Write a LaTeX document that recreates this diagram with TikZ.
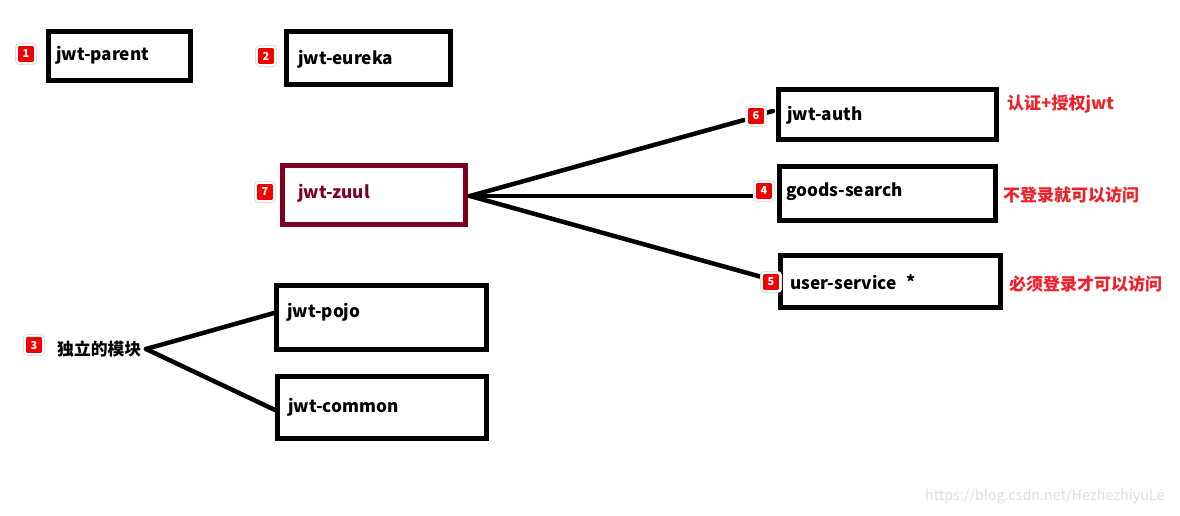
\documentclass[tikz,border=0pt]{standalone}
\usepackage{fontspec}
\setmainfont{Noto Sans CJK SC}
\begin{document}
\begin{tikzpicture}[x=1pt,y=-1pt,
  box/.style={draw=black,line width=5pt,inner sep=0pt},
  lab/.style={anchor=west,font=\fontsize{17.2}{18}\selectfont\bfseries,inner sep=0pt},
  note/.style={anchor=west,font=\fontsize{17}{18}\selectfont\bfseries,text=notered,inner sep=0pt},
  conn/.style={line width=4.5pt,line cap=round},
  badge/.style={fill=badgered,draw=white,line width=1.8pt,rounded corners=2.5pt,minimum size=18pt,inner sep=0pt,
     text=white,font=\fontsize{11}{11}\selectfont\bfseries,
     preaction={draw=black!12,line width=4pt}},
]
\definecolor{badgered}{HTML}{F00000}
\definecolor{notered}{HTML}{F0202A}
\definecolor{zuulred}{HTML}{7F0020}
\useasboundingbox (0,0) rectangle (1180,515);
% boxes
\node[box,minimum width=142pt,minimum height=49pt] (parent) at (119.5,56) {};
\node[box,minimum width=164pt,minimum height=53pt] (eureka) at (368.5,58) {};
\node[box,draw=zuulred,minimum width=183pt,minimum height=59pt] (zuul) at (374,195) {};
\node[box,minimum width=218pt,minimum height=50pt] (auth) at (887,114) {};
\node[box,minimum width=216pt,minimum height=54pt] (goods) at (887.5,193.5) {};
\node[box,minimum width=220pt,minimum height=52pt] (user) at (890.5,281.5) {};
\node[box,minimum width=210pt,minimum height=64pt] (pojo) at (381.5,317.5) {};
\node[box,minimum width=209pt,minimum height=62pt] (common) at (382,407.5) {};
% texts
\node[lab] (tparent) at (56,55) {jwt-parent};
\node[lab] (teureka) at (298,59) {jwt-eureka};
\node[lab,text=zuulred] (tzuul) at (298,193) {jwt-zuul};
\node[lab] (tauth) at (787,115) {jwt-auth};
\node[lab] (tgoods) at (786,192) {goods-search};
\node[lab] (tuser) at (790,282) {user-service};
\node[lab] (tstar) at (906,281) {*};
\node[lab] (tpojo) at (287,312) {jwt-pojo};
\node[lab] (tcommon) at (288,407) {jwt-common};
\node[lab,font=\fontsize{16.8}{18}\selectfont\bfseries] (mod) at (57,349) {独立的模块};
\node[note] (n1) at (1007,104) {认证+授权jwt};
\node[note] (n2) at (1003,195) {不登录就可以访问};
\node[note] (n3) at (1009,284) {必须登录才可以访问};
% connectors
\coordinate (zr) at (470,196);
\coordinate (aend) at (773,111);
\draw[conn] (zr) -- (744,120);
\draw[conn] (747,118) -- (aend);
\draw[conn] (zr) -- (760,196);
\draw[conn] (zr) -- (user.west);
\coordinate (mr) at (146,349);
\draw[conn] (mr) -- (274,313);
\draw[conn] (mr) -- (275,410);
% badges
\node[badge] (b1) at (26,54) {1};
\node[badge] (b2) at (266,56) {2};
\node[badge] (b7) at (265,192) {7};
\node[badge] (b6) at (756,116) {6};
\node[badge] (b4) at (764,191) {4};
\node[badge] (b5) at (771,282) {5};
\node[badge] (b3) at (34,345) {3};
% watermark
\node[anchor=west,inner sep=0pt,text=black!13,font=\fontsize{14.3}{15}\selectfont] (wm) at (925,497) {https://blog.csdn.net/HezhezhiyuLe};
\end{tikzpicture}
\end{document}
